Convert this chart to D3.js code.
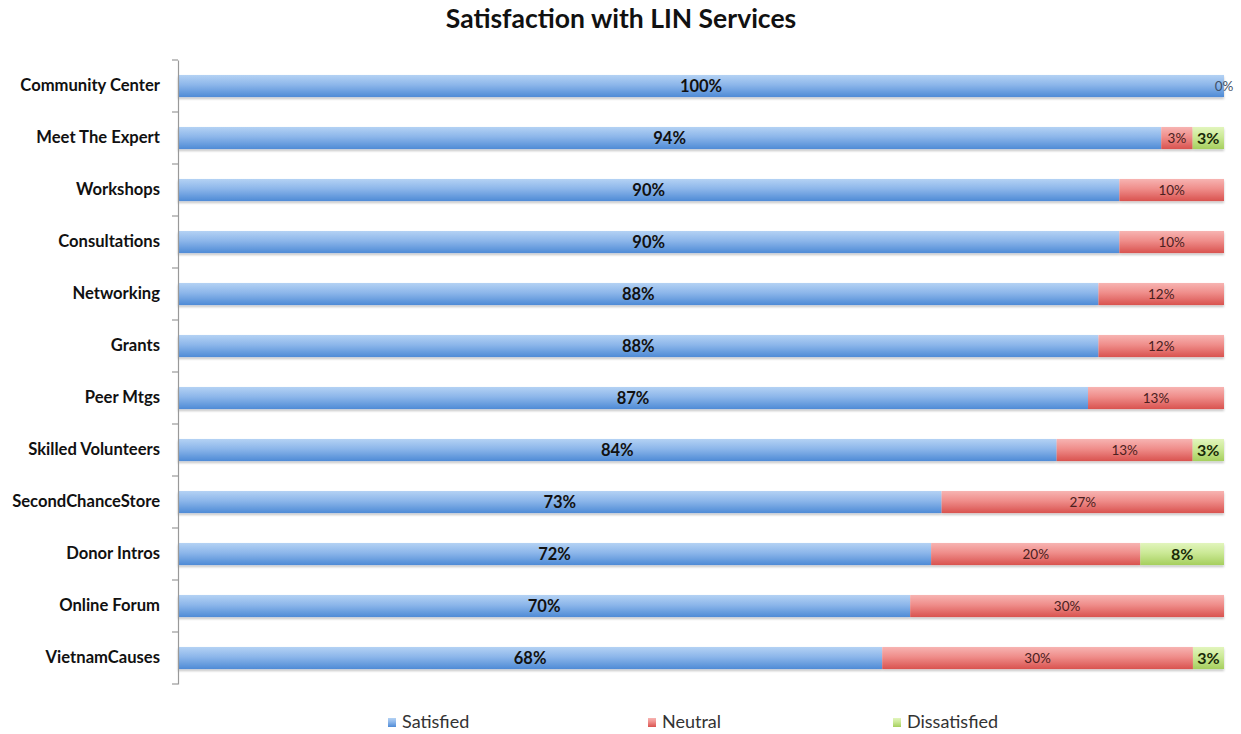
<!DOCTYPE html>
<html>
<head>
<meta charset="utf-8">
<script src="https://cdn.jsdelivr.net/npm/d3@7"></script>
<style>
  html, body { margin: 0; padding: 0; background: #fff; }
  svg { display: block; }
  svg text { font-family: Lato, "Open Sans", sans-serif; }
</style>
</head>
<body>
<svg id="chart" width="1241" height="734"></svg>
<script>
// Survey results per LIN service (percent of respondents)
const services = ["Community Center", "Meet The Expert", "Workshops", "Consultations",
  "Networking", "Grants", "Peer Mtgs", "Skilled Volunteers", "SecondChanceStore",
  "Donor Intros", "Online Forum", "VietnamCauses"];
const satisfied    = [100, 94, 90, 90, 88, 88, 87, 84, 73, 72, 70, 68];
const neutral      = [0,   3,  10, 10, 12, 12, 13, 13, 27, 20, 30, 30];
const dissatisfied = [null, 3, null, null, null, null, null, 3, null, 8, null, 3];
const seriesNames = ["Satisfied", "Neutral", "Dissatisfied"];

const svg = d3.select("#chart");
const W = 1241, H = 734;
const margin = { left: 178, right: 17, top: 60, bottom: 50 };

const rows = services.map((s, i) => ({
  name: s,
  Satisfied: satisfied[i],
  Neutral: neutral[i],
  Dissatisfied: dissatisfied[i]
}));

const x = d3.scaleLinear().domain([0, 1]).range([margin.left, W - margin.right]);
const y = d3.scaleBand().domain(services).range([margin.top, H - margin.bottom])
  .paddingInner(0.575).paddingOuter(0.2875);

// 100% stacking: each row is normalised by its total
const stack = d3.stack().keys(seriesNames)
  .value((d, k) => d[k] || 0)
  .offset(d3.stackOffsetExpand);
const layers = stack(rows);

// Vertical gradients give each series its glossy look
const defs = svg.append("defs");
const palettes = {
  Satisfied:    ["#b4d2f4", "#8cb6ea", "#4f8bd6"],
  Neutral:      ["#f7b4b2", "#ef8d8a", "#d9534f"],
  Dissatisfied: ["#e2f5bd", "#cbe996", "#a6cf5e"]
};
seriesNames.forEach(k => {
  const g = defs.append("linearGradient").attr("id", "grad-" + k)
    .attr("x1", 0).attr("y1", 0).attr("x2", 0).attr("y2", 1);
  g.append("stop").attr("offset", "0%").attr("stop-color", palettes[k][0]);
  g.append("stop").attr("offset", "45%").attr("stop-color", palettes[k][1]);
  g.append("stop").attr("offset", "100%").attr("stop-color", palettes[k][2]);
});
const shadow = defs.append("filter").attr("id", "shadow")
  .attr("x", "-5%").attr("y", "-20%").attr("width", "110%").attr("height", "160%");
shadow.append("feDropShadow").attr("dx", 0).attr("dy", 2).attr("stdDeviation", 1.2)
  .attr("flood-color", "#000").attr("flood-opacity", 0.22);

// Title
svg.append("text")
  .attr("x", 621).attr("y", 28)
  .attr("text-anchor", "middle")
  .attr("font-size", 26.5).attr("font-weight", "bold").attr("fill", "#111")
  .text("Satisfaction with LIN Services");

// Bars
const bars = svg.append("g").attr("filter", "url(#shadow)");
layers.forEach(layer => {
  bars.selectAll(null).data(layer).join("rect")
    .attr("x", d => x(d[0]))
    .attr("y", d => y(d.data.name))
    .attr("width", d => Math.max(0, x(d[1]) - x(d[0])))
    .attr("height", y.bandwidth())
    .attr("fill", `url(#grad-${layer.key})`);
});

// Value labels
const labelStyle = {
  Satisfied:    { size: 16.5, weight: "bold",   fill: "#111" },
  Neutral:      { size: 13.5, weight: "normal", fill: "#4a2020" },
  Dissatisfied: { size: 16,   weight: "bold",   fill: "#1a2a08" }
};
layers.forEach(layer => {
  const st = labelStyle[layer.key];
  svg.append("g").selectAll("text")
    .data(layer.filter(d => d.data[layer.key] !== null))
    .join("text")
    .attr("x", d => (x(d[0]) + x(d[1])) / 2)
    .attr("y", d => y(d.data.name) + y.bandwidth() / 2)
    .attr("dy", "0.36em")
    .attr("text-anchor", "middle")
    .attr("font-size", st.size)
    .attr("font-weight", st.weight)
    .attr("fill", d => d.data[layer.key] === 0 ? "#3f5068" : st.fill)
    .text(d => d.data[layer.key] + "%");
});

// Category axis
const axis = d3.axisLeft(y).tickSize(0).tickPadding(18);
const ag = svg.append("g").attr("transform", `translate(${margin.left},0)`).call(axis);
ag.attr("font-family", null);
ag.select(".domain").attr("stroke", "#999").attr("stroke-width", 1.2);
ag.selectAll("text").attr("font-size", 16.6).attr("font-weight", "bold").attr("fill", "#111");

// Boundary tick marks between categories
const bounds = d3.range(services.length + 1).map(i => margin.top + i * y.step());
svg.append("g").selectAll("line").data(bounds).join("line")
  .attr("x1", margin.left - 6).attr("x2", margin.left)
  .attr("y1", d => d).attr("y2", d => d)
  .attr("stroke", "#999").attr("stroke-width", 1.2);

// Legend
const legendX = [388, 648, 893];
const lg = svg.append("g").selectAll("g").data(seriesNames).join("g")
  .attr("transform", (d, i) => `translate(${legendX[i]},728)`);
lg.append("rect").attr("x", 0).attr("y", -10).attr("width", 8).attr("height", 9)
  .attr("fill", d => `url(#grad-${d})`);
lg.append("text").attr("x", 14).attr("y", 0)
  .attr("font-size", 18).attr("fill", "#333").text(d => d);
</script>
</body>
</html>
